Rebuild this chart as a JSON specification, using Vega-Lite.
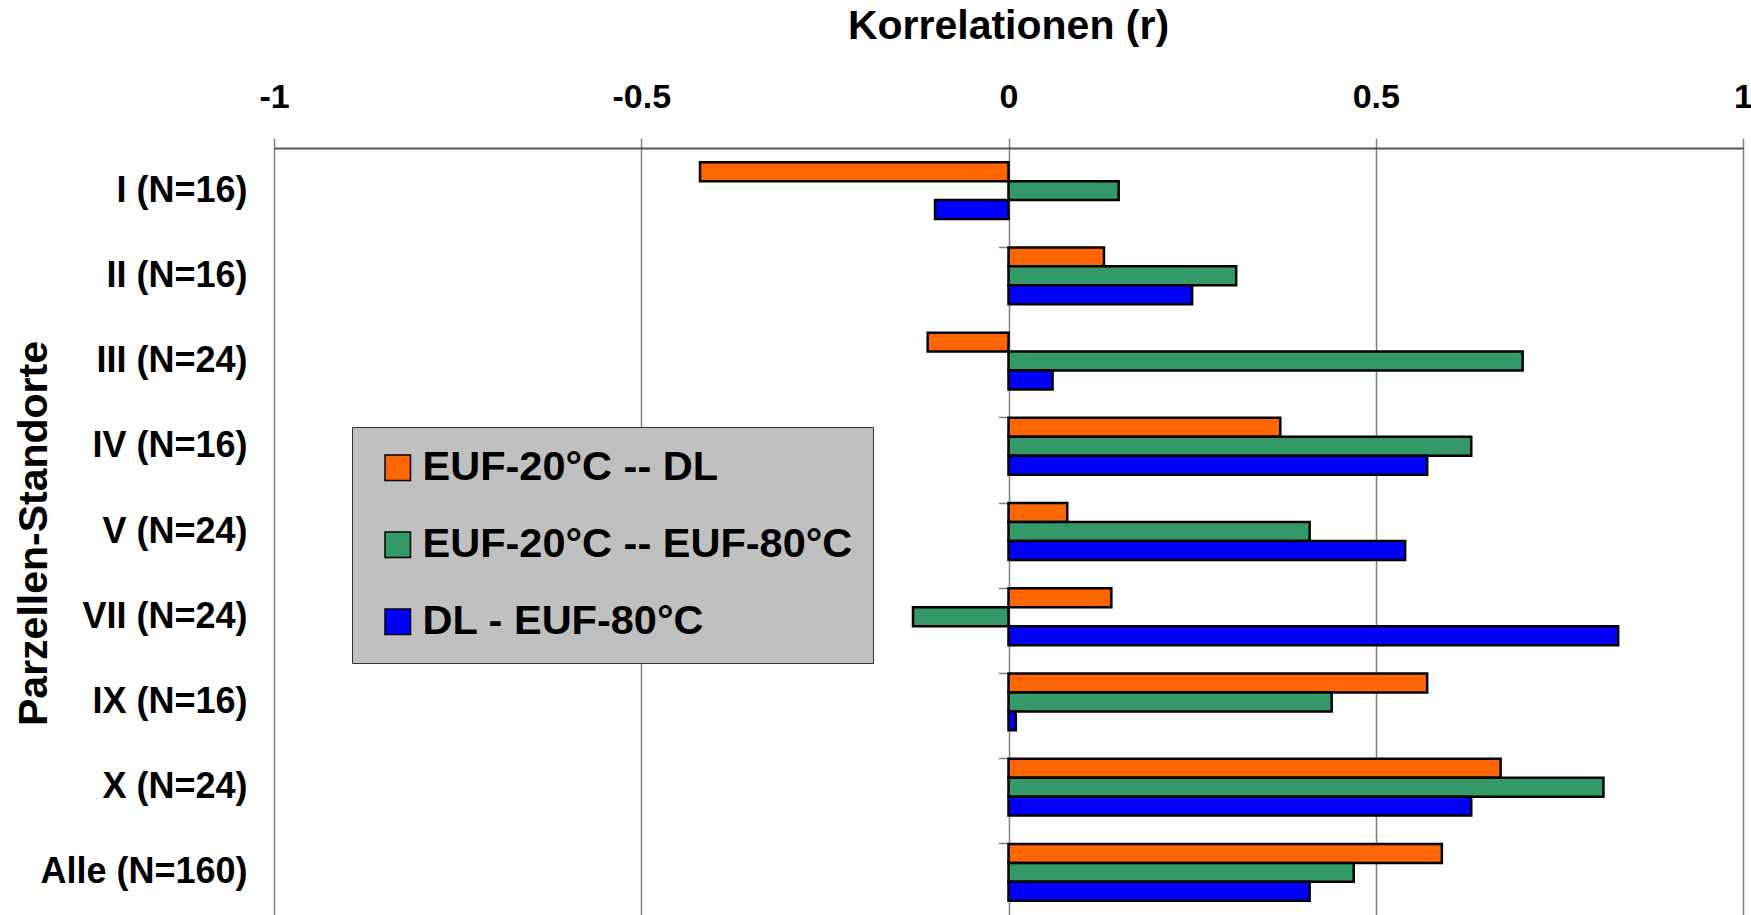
{
  "$schema": "https://vega.github.io/schema/vega-lite/v6.json",
  "width": 1469,
  "height": 767,
  "autosize": {"type": "none"},
  "padding": {"left": 274, "top": 148, "right": 8, "bottom": 0},
  "background": "white",
  "config": {"font": "Liberation Sans", "view": {"stroke": null}},
  "data": {
    "values": [
      {"site": "I (N=16)", "pair": "EUF-20°C -- DL", "r": -0.42},
      {"site": "I (N=16)", "pair": "EUF-20°C -- EUF-80°C", "r": 0.15},
      {"site": "I (N=16)", "pair": "DL - EUF-80°C", "r": -0.10},
      {"site": "II (N=16)", "pair": "EUF-20°C -- DL", "r": 0.13},
      {"site": "II (N=16)", "pair": "EUF-20°C -- EUF-80°C", "r": 0.31},
      {"site": "II (N=16)", "pair": "DL - EUF-80°C", "r": 0.25},
      {"site": "III (N=24)", "pair": "EUF-20°C -- DL", "r": -0.11},
      {"site": "III (N=24)", "pair": "EUF-20°C -- EUF-80°C", "r": 0.70},
      {"site": "III (N=24)", "pair": "DL - EUF-80°C", "r": 0.06},
      {"site": "IV (N=16)", "pair": "EUF-20°C -- DL", "r": 0.37},
      {"site": "IV (N=16)", "pair": "EUF-20°C -- EUF-80°C", "r": 0.63},
      {"site": "IV (N=16)", "pair": "DL - EUF-80°C", "r": 0.57},
      {"site": "V (N=24)", "pair": "EUF-20°C -- DL", "r": 0.08},
      {"site": "V (N=24)", "pair": "EUF-20°C -- EUF-80°C", "r": 0.41},
      {"site": "V (N=24)", "pair": "DL - EUF-80°C", "r": 0.54},
      {"site": "VII (N=24)", "pair": "EUF-20°C -- DL", "r": 0.14},
      {"site": "VII (N=24)", "pair": "EUF-20°C -- EUF-80°C", "r": -0.13},
      {"site": "VII (N=24)", "pair": "DL - EUF-80°C", "r": 0.83},
      {"site": "IX (N=16)", "pair": "EUF-20°C -- DL", "r": 0.57},
      {"site": "IX (N=16)", "pair": "EUF-20°C -- EUF-80°C", "r": 0.44},
      {"site": "IX (N=16)", "pair": "DL - EUF-80°C", "r": 0.01},
      {"site": "X (N=24)", "pair": "EUF-20°C -- DL", "r": 0.67},
      {"site": "X (N=24)", "pair": "EUF-20°C -- EUF-80°C", "r": 0.81},
      {"site": "X (N=24)", "pair": "DL - EUF-80°C", "r": 0.63},
      {"site": "Alle (N=160)", "pair": "EUF-20°C -- DL", "r": 0.59},
      {"site": "Alle (N=160)", "pair": "EUF-20°C -- EUF-80°C", "r": 0.47},
      {"site": "Alle (N=160)", "pair": "DL - EUF-80°C", "r": 0.41}
    ]
  },
  "layer": [
    {
      "mark": {"type": "bar", "stroke": "black", "strokeWidth": 2.5},
      "encoding": {
        "y": {
          "field": "site",
          "type": "nominal",
          "sort": ["I (N=16)", "II (N=16)", "III (N=24)", "IV (N=16)", "V (N=24)", "VII (N=24)", "IX (N=16)", "X (N=24)", "Alle (N=160)"],
          "scale": {"paddingInner": 0.333, "paddingOuter": 0.1667},
          "axis": {
            "orient": "left",
            "title": "Parzellen-Standorte",
            "ticks": false,
            "domain": false,
            "grid": false,
            "labelFontSize": 36,
            "labelFontWeight": "bold",
            "labelColor": "black",
            "labelPadding": 27,
            "labelLimit": 400,
            "titleFontSize": 41,
            "titleFontWeight": "bold",
            "titleColor": "black",
            "titleAngle": -90,
            "titleX": -228,
            "titleY": 385,
            "titleAlign": "center",
            "titleBaseline": "alphabetic"
          }
        },
        "yOffset": {
          "field": "pair",
          "type": "nominal",
          "sort": ["EUF-20°C -- DL", "EUF-20°C -- EUF-80°C", "DL - EUF-80°C"],
          "scale": {"paddingInner": 0, "paddingOuter": 0}
        },
        "x": {
          "field": "r",
          "type": "quantitative",
          "title": "Korrelationen (r)",
          "scale": {"domain": [-1, 1], "nice": false},
          "axis": {
            "orient": "top",
            "values": [-1, -0.5, 0, 0.5, 1],
            "labelExpr": "toString(datum.value)",
            "labelFontSize": 34,
            "labelFontWeight": "bold",
            "labelColor": "black",
            "labelPadding": 31,
            "labelBaseline": "alphabetic",
            "labelFlush": false,
            "labelOverlap": false,
            "tickSize": 10,
            "tickColor": "#808080",
            "tickWidth": 1.5,
            "domainColor": "#555555",
            "domainWidth": 2,
            "grid": true,
            "gridColor": "#808080",
            "gridWidth": 1.5,
            "titleFontSize": 41,
            "titleFontWeight": "bold",
            "titleColor": "black",
            "titleX": 734,
            "titleY": -110,
            "titleAlign": "center",
            "titleBaseline": "alphabetic"
          }
        },
        "color": {
          "field": "pair",
          "type": "nominal",
          "scale": {
            "domain": ["EUF-20°C -- DL", "EUF-20°C -- EUF-80°C", "DL - EUF-80°C"],
            "range": ["#FF6600", "#339966", "#0000FF"]
          },
          "legend": {
            "orient": "none",
            "legendX": 78,
            "legendY": 279,
            "title": null,
            "fillColor": "#C0C0C0",
            "strokeColor": "#333333",
            "padding": 20,
            "symbolOffset": 5,
            "symbolType": "square",
            "symbolSize": 650,
            "symbolStrokeColor": "black",
            "symbolStrokeWidth": 1.5,
            "symbolOpacity": 1,
            "labelFontSize": 41.5,
            "labelFontWeight": "bold",
            "labelColor": "black",
            "labelOffset": 4,
            "labelLimit": 700,
            "rowPadding": 34
          }
        }
      }
    },
    {
      "mark": {"type": "text", "text": ""},
      "encoding": {
        "y": {
          "field": "site",
          "type": "nominal",
          "sort": ["I (N=16)", "II (N=16)", "III (N=24)", "IV (N=16)", "V (N=24)", "VII (N=24)", "IX (N=16)", "X (N=24)", "Alle (N=160)"],
          "axis": {
            "orient": "right",
            "offset": -734.5,
            "labels": false,
            "domain": false,
            "grid": false,
            "ticks": true,
            "tickSize": -10,
            "bandPosition": 0,
            "tickColor": "#808080",
            "tickWidth": 1.5,
            "title": null
          }
        },
        "x": {"datum": 0, "type": "quantitative", "title": "Korrelationen (r)"}
      }
    }
  ],
  "resolve": {"axis": {"y": "independent"}}
}
